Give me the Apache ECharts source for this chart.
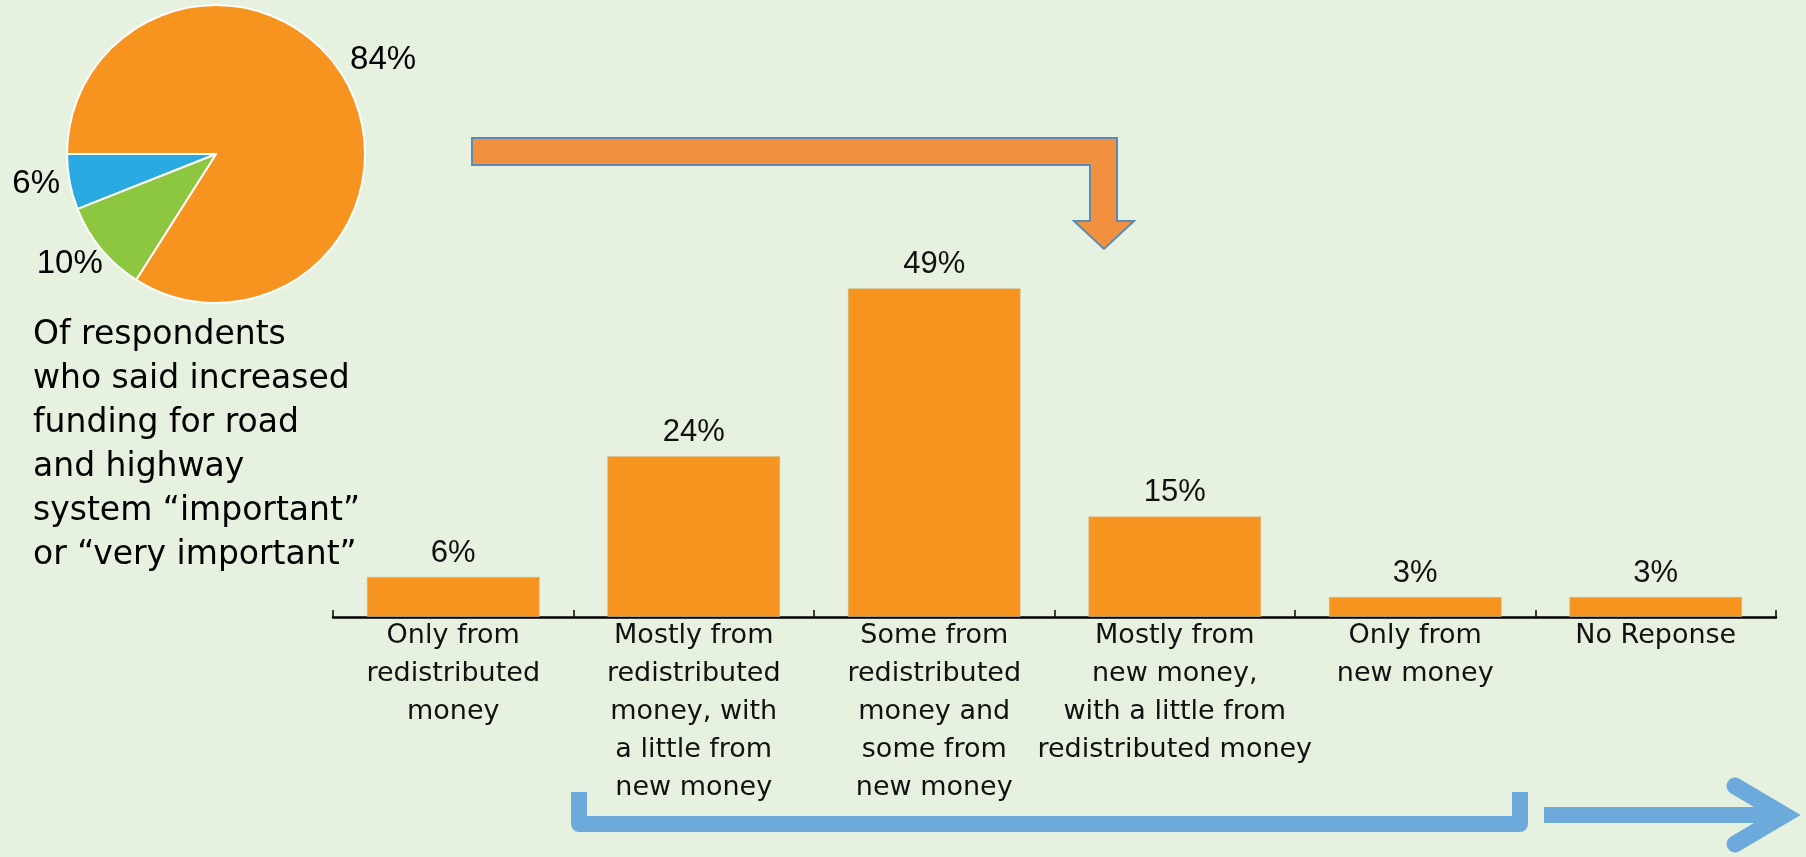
<!DOCTYPE html>
<html>
<head>
<meta charset="utf-8">
<script src="https://cdn.jsdelivr.net/npm/echarts@6/dist/echarts.min.js"></script>
<style>
html,body{margin:0;padding:0;background:#E6F1DF;}
#c{width:1806px;height:857px;}
</style>
</head>
<body>
<div id="c"></div>
<script>
// ---- data ----
var categories = [
  'Only from\nredistributed\nmoney',
  'Mostly from\nredistributed\nmoney, with\na little from\nnew money',
  'Some from\nredistributed\nmoney and\nsome from\nnew money',
  'Mostly from\nnew money,\nwith a little from\nredistributed money',
  'Only from\nnew money',
  'No Reponse'
];
var barValues = [6, 24, 49, 15, 3, 3];

var pieNames = ['Important or very important', 'Other', 'Remaining'];
var pieValues = [84, 10, 6];
var pieColors = ['#F7941F', '#8DC63F', '#29ABE2'];

var noteText = 'Of respondents\nwho said increased\nfunding for road\nand highway\nsystem \u201cimportant\u201d\nor \u201cvery important\u201d';

// label fine placement offsets (pie)
var pieLabelShift = [{dx: -19, dy: -13}, {dx: 22, dy: 2}, {dx: 15, dy: -2}];

var chart = echarts.init(document.getElementById('c'), null, {renderer: 'canvas'});

var pieData = pieValues.map(function (v, i) {
  return {name: pieNames[i], value: v, itemStyle: {color: pieColors[i]}};
});

var option = {
  backgroundColor: '#E6F1DF',
  animation: false,
  title: {
    text: noteText,
    left: 33,
    top: 313,
    padding: 0,
    textStyle: {
      fontFamily: 'DejaVu Sans',
      fontSize: 33,
      fontWeight: 'normal',
      lineHeight: 44,
      color: '#000'
    }
  },
  grid: {left: 333, right: 30, top: 217, bottom: 240, containLabel: false},
  xAxis: {
    type: 'category',
    data: categories,
    axisLine: {show: true, lineStyle: {color: '#000', width: 2.5}},
    axisTick: {show: true, inside: true, length: 7, lineStyle: {color: '#000', width: 1.5}},
    axisLabel: {
      interval: 0,
      margin: 0,
      fontFamily: 'DejaVu Sans',
      fontSize: 27,
      lineHeight: 38,
      color: '#111',
      align: 'center'
    },
    splitLine: {show: false}
  },
  yAxis: {
    type: 'value',
    min: 0,
    max: 59.6,
    show: false,
    splitLine: {show: false}
  },
  series: [
    {
      type: 'bar',
      data: barValues,
      barWidth: 173,
      itemStyle: {color: '#F7941F', borderColor: 'rgba(200,190,150,0.55)', borderWidth: 1},
      label: {
        show: true,
        position: 'top',
        distance: 8,
        formatter: '{c}%',
        fontFamily: 'Liberation Sans',
        fontSize: 31,
        color: '#111'
      },
      silent: true
    },
    {
      type: 'pie',
      center: [216, 154],
      radius: 149,
      startAngle: 180,
      clockwise: true,
      avoidLabelOverlap: false,
      data: pieData,
      itemStyle: {borderColor: '#ffffff', borderWidth: 2},
      label: {
        show: true,
        position: 'outside',
        formatter: '{c}%',
        fontFamily: 'Liberation Sans',
        fontSize: 33,
        color: '#000',
        distanceToLabelLine: 5
      },
      labelLine: {show: false, length: 20, length2: 0},
      labelLayout: function (p) { return pieLabelShift[p.dataIndex]; },
      silent: true
    }
  ],
  graphic: [
    {
      type: 'polygon',
      shape: {points: [[472,138],[1117,138],[1117,221],[1134,221],[1104,249],[1074,221],[1090,221],[1090,165],[472,165]]},
      style: {fill: '#F1913F', stroke: '#5C8AB4', lineWidth: 2},
      silent: true
    },
    {
      type: 'polyline',
      shape: {points: [[579,792],[579,824],[1520,824],[1520,792]]},
      style: {stroke: '#6CAADB', lineWidth: 16, fill: null, lineJoin: 'round', lineCap: 'butt'},
      silent: true
    },
    {
      type: 'line',
      shape: {x1: 1544, y1: 815, x2: 1784, y2: 815},
      style: {stroke: '#6CAADB', lineWidth: 16, lineCap: 'butt'},
      silent: true
    },
    {
      type: 'polyline',
      shape: {points: [[1735,786],[1784,815],[1735,844]]},
      style: {stroke: '#6CAADB', lineWidth: 17, fill: null, lineJoin: 'miter', lineCap: 'round'},
      silent: true
    }
  ]
};
chart.setOption(option);
</script>
</body>
</html>
